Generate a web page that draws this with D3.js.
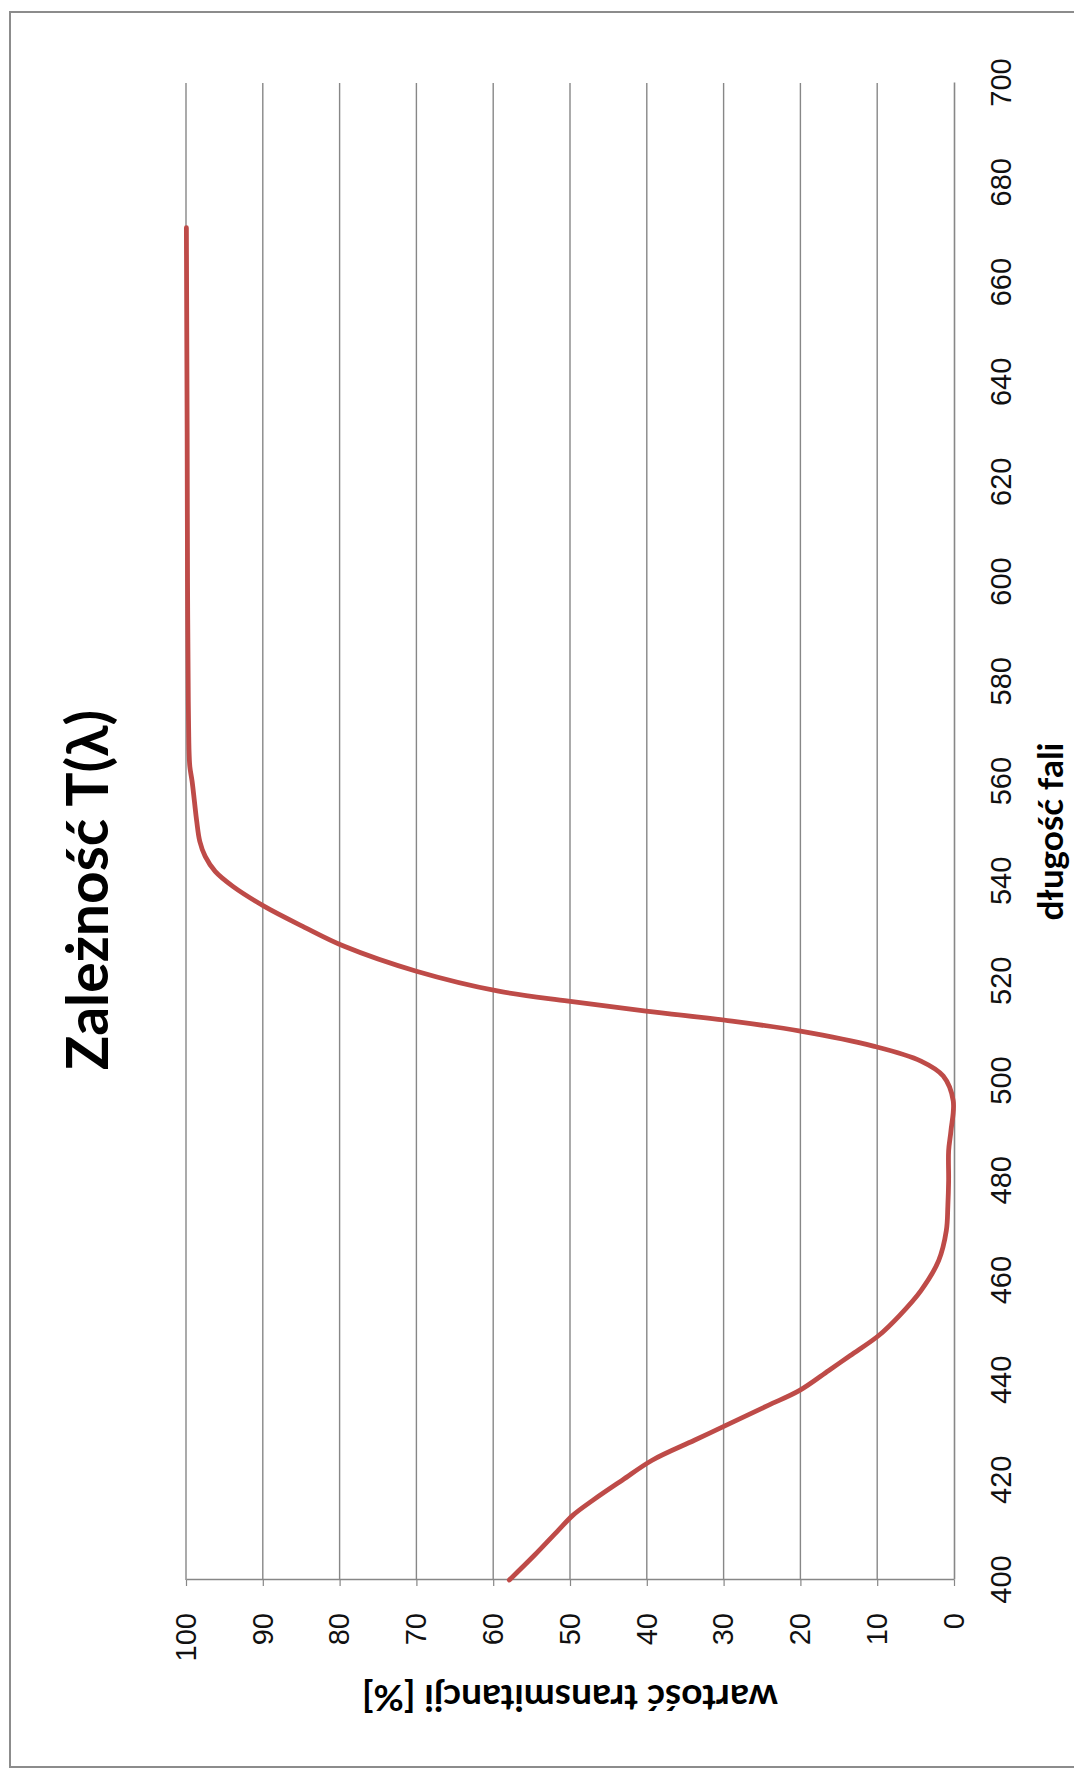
<!DOCTYPE html>
<html>
<head>
<meta charset="utf-8">
<script src="https://cdn.jsdelivr.net/npm/d3@7"></script>
<style>
  html, body { margin: 0; padding: 0; background: #ffffff; }
  svg { display: block; }
</style>
</head>
<body>
<div id="chart"></div>
<script>
// ---- data ----
const chartTitle = "Zależność T(λ)";
const xTitle = "długość fali";
const yTitle = "wartość transmitancji [%]";

const wavelengthTicks = [400, 420, 440, 460, 480, 500, 520, 540, 560, 580, 600, 620, 640, 660, 680, 700];
const transmittanceTicks = [0, 10, 20, 30, 40, 50, 60, 70, 80, 90, 100];

const wavelength = [400, 405, 410, 413, 416, 420, 424, 428, 431, 435, 438, 442, 445, 449, 453, 458, 464, 470, 475, 480, 486, 490, 496, 501, 504, 507, 510, 512, 514, 516, 518, 522, 527, 531, 535, 539, 542, 545, 548, 552, 556, 560, 563, 566, 570, 576, 600, 630, 650, 671];
const transmittance = [57.9, 54.6, 51.5, 49.6, 47.0, 43.2, 39.3, 33.8, 29.7, 24.2, 20.1, 16.3, 13.5, 9.8, 7.1, 4.3, 2.0, 1.0, 0.8, 0.7, 0.7, 0.4, 0.1, 1.4, 4.3, 10.5, 20.0, 28.9, 40.1, 50.2, 59.3, 70.0, 79.4, 84.8, 89.8, 93.9, 96.2, 97.5, 98.2, 98.6, 98.9, 99.2, 99.5, 99.6, 99.65, 99.7, 99.8, 99.85, 99.9, 99.95];

// ---- layout ----
const W = 1074, H = 1771;
const svg = d3.select("#chart").append("svg")
  .attr("width", W).attr("height", H);
svg.append("rect").attr("width", W).attr("height", H).attr("fill", "#ffffff");

// whole chart is turned 90° counter-clockwise
const g = svg.append("g").attr("transform", `translate(0,${H}) rotate(-90)`);

const gridColor = "#878787";
const tickFont = "'Liberation Sans', Arial, sans-serif";
const titleFont = "Lato, 'Open Sans', sans-serif";

// chart-area frame
g.append("rect")
  .attr("x", 4).attr("y", 10).attr("width", 1755).attr("height", 1200)
  .attr("fill", "none").attr("stroke", "#8c8c8c").attr("stroke-width", 2);

const x = d3.scaleLinear().domain([400, 700]).range([191, 1688]);
const y = d3.scaleLinear().domain([0, 100]).range([954, 186]);

// horizontal gridlines
g.append("g").selectAll("line")
  .data(transmittanceTicks.filter(t => t > 0))
  .join("line")
  .attr("x1", x(400)).attr("x2", x(700))
  .attr("y1", d => y(d)).attr("y2", d => y(d))
  .attr("stroke", gridColor).attr("stroke-width", 1.4);

// x axis (wavelength)
const xAxis = g.append("g").attr("transform", `translate(0,${y(0)})`)
  .call(d3.axisBottom(x).tickValues(wavelengthTicks).tickSize(0).tickSizeOuter(0).tickPadding(36));
xAxis.select(".domain").attr("stroke", gridColor).attr("stroke-width", 1.6);
xAxis.selectAll("text").attr("font-family", tickFont).attr("font-size", 29).attr("fill", "#111");

// y axis (transmittance)
const yAxis = g.append("g").attr("transform", `translate(${x(400)},0)`)
  .call(d3.axisLeft(y).tickValues(transmittanceTicks).tickSize(6).tickSizeOuter(0).tickPadding(27));
yAxis.select(".domain").attr("stroke", gridColor).attr("stroke-width", 1.6);
yAxis.selectAll(".tick line").attr("stroke", gridColor).attr("stroke-width", 1.2);
yAxis.selectAll("text").attr("font-family", tickFont).attr("font-size", 29).attr("fill", "#111");

// data line
const pts = wavelength.map((w, i) => [w, transmittance[i]]);
g.append("path")
  .datum(pts)
  .attr("fill", "none")
  .attr("stroke", "#be4b48")
  .attr("stroke-width", 4.8)
  .attr("stroke-linecap", "round")
  .attr("stroke-linejoin", "round")
  .attr("d", d3.line().x(d => x(d[0])).y(d => y(d[1])).curve(d3.curveCatmullRom.alpha(0.5)));

// titles
g.append("text")
  .attr("x", 881).attr("y", 108)
  .attr("text-anchor", "middle")
  .attr("font-family", titleFont).attr("font-weight", "bold").attr("font-size", 57)
  .attr("fill", "#000")
  .text(chartTitle);

g.append("text")
  .attr("x", (x(400) + x(700)) / 2).attr("y", 1063)
  .attr("text-anchor", "middle")
  .attr("font-family", titleFont).attr("font-weight", "bold").attr("font-size", 35)
  .attr("fill", "#000")
  .text(xTitle);

g.append("text")
  .attr("transform", `translate(86,${(y(0) + y(100)) / 2}) rotate(-90)`)
  .attr("text-anchor", "middle")
  .attr("font-family", titleFont).attr("font-weight", "bold").attr("font-size", 37)
  .attr("fill", "#000")
  .text(yTitle);
</script>
</body>
</html>
